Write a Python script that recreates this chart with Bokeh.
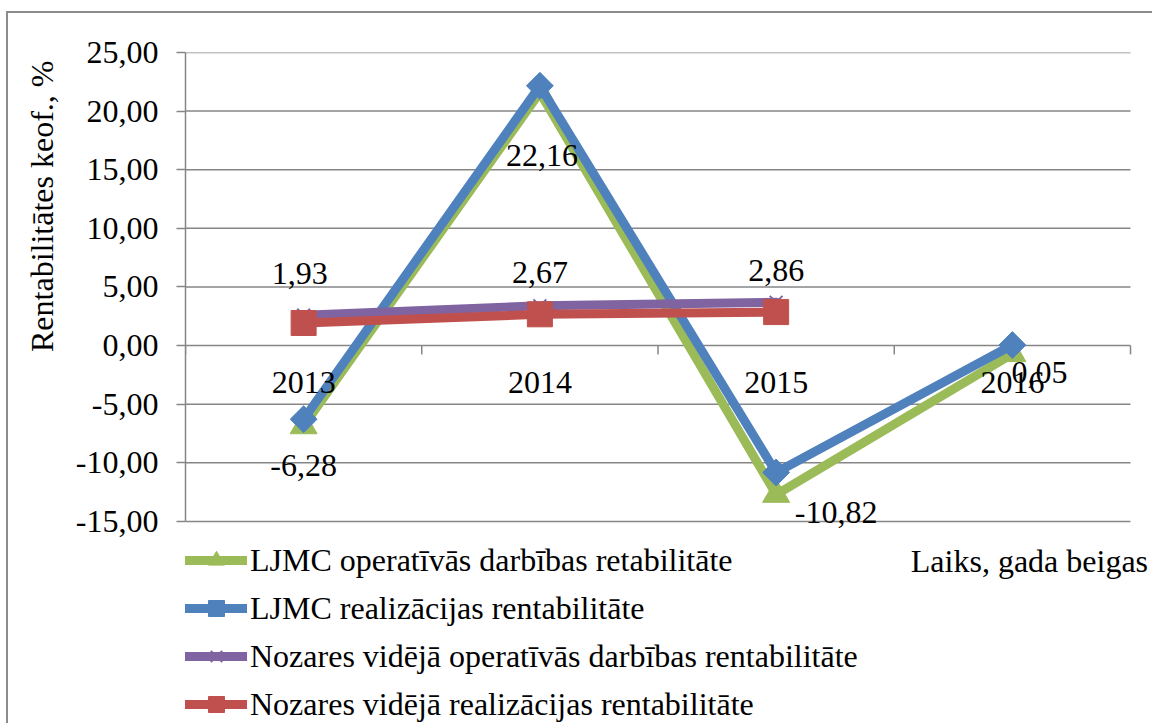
import math
from bokeh.plotting import figure
from bokeh.models import (Range1d, FixedTicker, Legend, LegendItem, Label,
                          LabelSet, ColumnDataSource, Title)
from bokeh.core.properties import value
from bokeh.embed import file_html
from bokeh.resources import INLINE

# ---------------- data ----------------
years = ["2013", "2014", "2015", "2016"]
ljmc_operativa = [-6.85, 21.6, -12.7, -0.7]
ljmc_realizacijas = [-6.28, 22.16, -10.82, 0.05]
nozare_operativa = [2.6, 3.4, 3.7]
nozare_realizacijas = [1.93, 2.67, 2.86]
y_ticks = [-15, -10, -5, 0, 5, 10, 15, 20, 25]
series_names = [
    "LJMC operatīvās darbības retabilitāte",
    "LJMC realizācijas rentabilitāte",
    "Nozares vidējā operatīvās darbības rentabilitāte",
    "Nozares vidējā realizācijas rentabilitāte",
]
y_title = "Rentabilitātes keof., %"
x_title = "Laiks, gada beigas"

# ---------------- style ----------------
FONT_NAME = "Liberation Serif"
FONT = value(FONT_NAME)
FS = "32px"
GREEN, BLUE, PURPLE, RED = "#9BBB59", "#4F81BD", "#8064A2", "#C0504D"
GRID = "#868686"

def fmt(v):
    return f"{v:.2f}".replace(".", ",")

n_cat = len(years)
x_all = [i + 0.5 for i in range(n_cat)]
x_noz = x_all[:len(nozare_realizacijas)]

# the frame reaches past the plot area (down to the legend and right to the
# axis title) so those texts stay visible; grid and axis are bounded instead
PLOT_BOTTOM = -32.4
PLOT_RIGHT = n_cat + 0.1015

p = figure(width=1146, height=712,
           x_range=Range1d(0, PLOT_RIGHT),
           y_range=Range1d(PLOT_BOTTOM, max(y_ticks)),
           x_axis_type=None, output_backend="svg", toolbar_location=None,
           min_border_left=176, min_border_right=0,
           min_border_top=39, min_border_bottom=0)
p.styles = {"border-left": "2px solid #8c8c8c", "border-top": "2px solid #8c8c8c",
            "margin-left": "6px", "margin-top": "11px"}
p.outline_line_color = None
p.background_fill_color = "white"
p.border_fill_color = "white"

# horizontal gridlines across the category area only
p.ygrid.grid_line_color = None
p.segment(x0=[0] * len(y_ticks), y0=y_ticks, x1=[n_cat] * len(y_ticks), y1=y_ticks,
          line_color=GRID, line_width=1.5)

# y axis
p.yaxis.ticker = FixedTicker(ticks=y_ticks)
p.yaxis.bounds = (min(y_ticks), max(y_ticks))
p.yaxis.major_label_overrides = {t: fmt(t) for t in y_ticks}
p.yaxis.axis_line_color = GRID
p.yaxis.axis_line_width = 1.5
p.yaxis.major_tick_line_color = GRID
p.yaxis.major_tick_line_width = 1.5
p.yaxis.major_tick_out = 9
p.yaxis.major_tick_in = 0
p.yaxis.minor_tick_line_color = None
p.yaxis.major_label_standoff = 18
p.yaxis.major_label_text_font = FONT_NAME
p.yaxis.major_label_text_font_size = FS
p.yaxis.major_label_text_color = "black"

# y axis title
p.add_layout(Title(text=y_title, align="right", offset=8, standoff=26,
                   text_font=FONT_NAME, text_font_size=FS,
                   text_font_style="normal", text_color="black"), "left")

# category tick marks on the zero line
bounds = list(range(n_cat + 1))
p.segment(x0=bounds, y0=[0] * len(bounds), x1=bounds, y1=[-0.75] * len(bounds),
          line_color=GRID, line_width=1.5)

# series
l1 = p.line(x_all, ljmc_operativa, line_color=GREEN, line_width=9,
            line_join="round", line_cap="round")
m1 = p.scatter(x_all, ljmc_operativa, marker="triangle", size=27,
               fill_color=GREEN, line_color=GREEN)
l2 = p.line(x_all, ljmc_realizacijas, line_color=BLUE, line_width=9,
            line_join="round", line_cap="round")
m2 = p.scatter(x_all, ljmc_realizacijas, marker="square", angle=math.pi / 4,
               size=19, fill_color=BLUE, line_color=BLUE)
l3 = p.line(x_noz, nozare_operativa, line_color=PURPLE, line_width=9,
            line_join="round", line_cap="round")
m3 = p.scatter(x_noz, nozare_operativa, marker="x", size=18,
               line_color=PURPLE, line_width=2)
l4 = p.line(x_noz, nozare_realizacijas, line_color=RED, line_width=9,
            line_join="round", line_cap="round")
m4 = p.scatter(x_noz, nozare_realizacijas, marker="square", size=25,
               fill_color=RED, line_color=RED)

# category labels at the zero line
cat_src = ColumnDataSource(dict(x=x_all, y=[0] * n_cat, text=years))
p.add_layout(LabelSet(x="x", y="y", text="text", source=cat_src,
                      y_offset=-37, text_align="center", text_baseline="middle",
                      text_font=FONT, text_font_size=FS, text_color="black"))

# data labels
lab_x = x_noz + x_all
lab_y = nozare_realizacijas + ljmc_realizacijas
lab_dx = [-4, 0, 0, 0, 2, 60, 27]
lab_dy = [49, 42, 42, -46, -70, -40, -27]
lab_src = ColumnDataSource(dict(x=lab_x, y=lab_y, text=[fmt(v) for v in lab_y],
                                dx=lab_dx, dy=lab_dy))
p.add_layout(LabelSet(x="x", y="y", text="text", source=lab_src,
                      x_offset="dx", y_offset="dy",
                      text_align="center", text_baseline="middle",
                      text_font=FONT, text_font_size=FS, text_color="black"))

# category axis title
p.add_layout(Label(x=3.07, y=-18.34, text=x_title,
                   text_align="left", text_baseline="middle",
                   text_font=FONT_NAME, text_font_size=FS, text_color="black"))

# legend
legend = Legend(items=[
    LegendItem(label=series_names[0], renderers=[l1, m1]),
    LegendItem(label=series_names[1], renderers=[l2, m2]),
    LegendItem(label=series_names[2], renderers=[l3, m3]),
    LegendItem(label=series_names[3], renderers=[l4, m4]),
], location=(0, 1), orientation="vertical", glyph_width=62, glyph_height=40,
   label_height=40, spacing=8, padding=0, margin=0, label_standoff=3,
   label_text_font=FONT_NAME, label_text_font_size=FS,
   label_text_color="black", border_line_color=None, background_fill_alpha=0)
p.add_layout(legend)

open("out.html", "w").write(file_html(p, INLINE))
